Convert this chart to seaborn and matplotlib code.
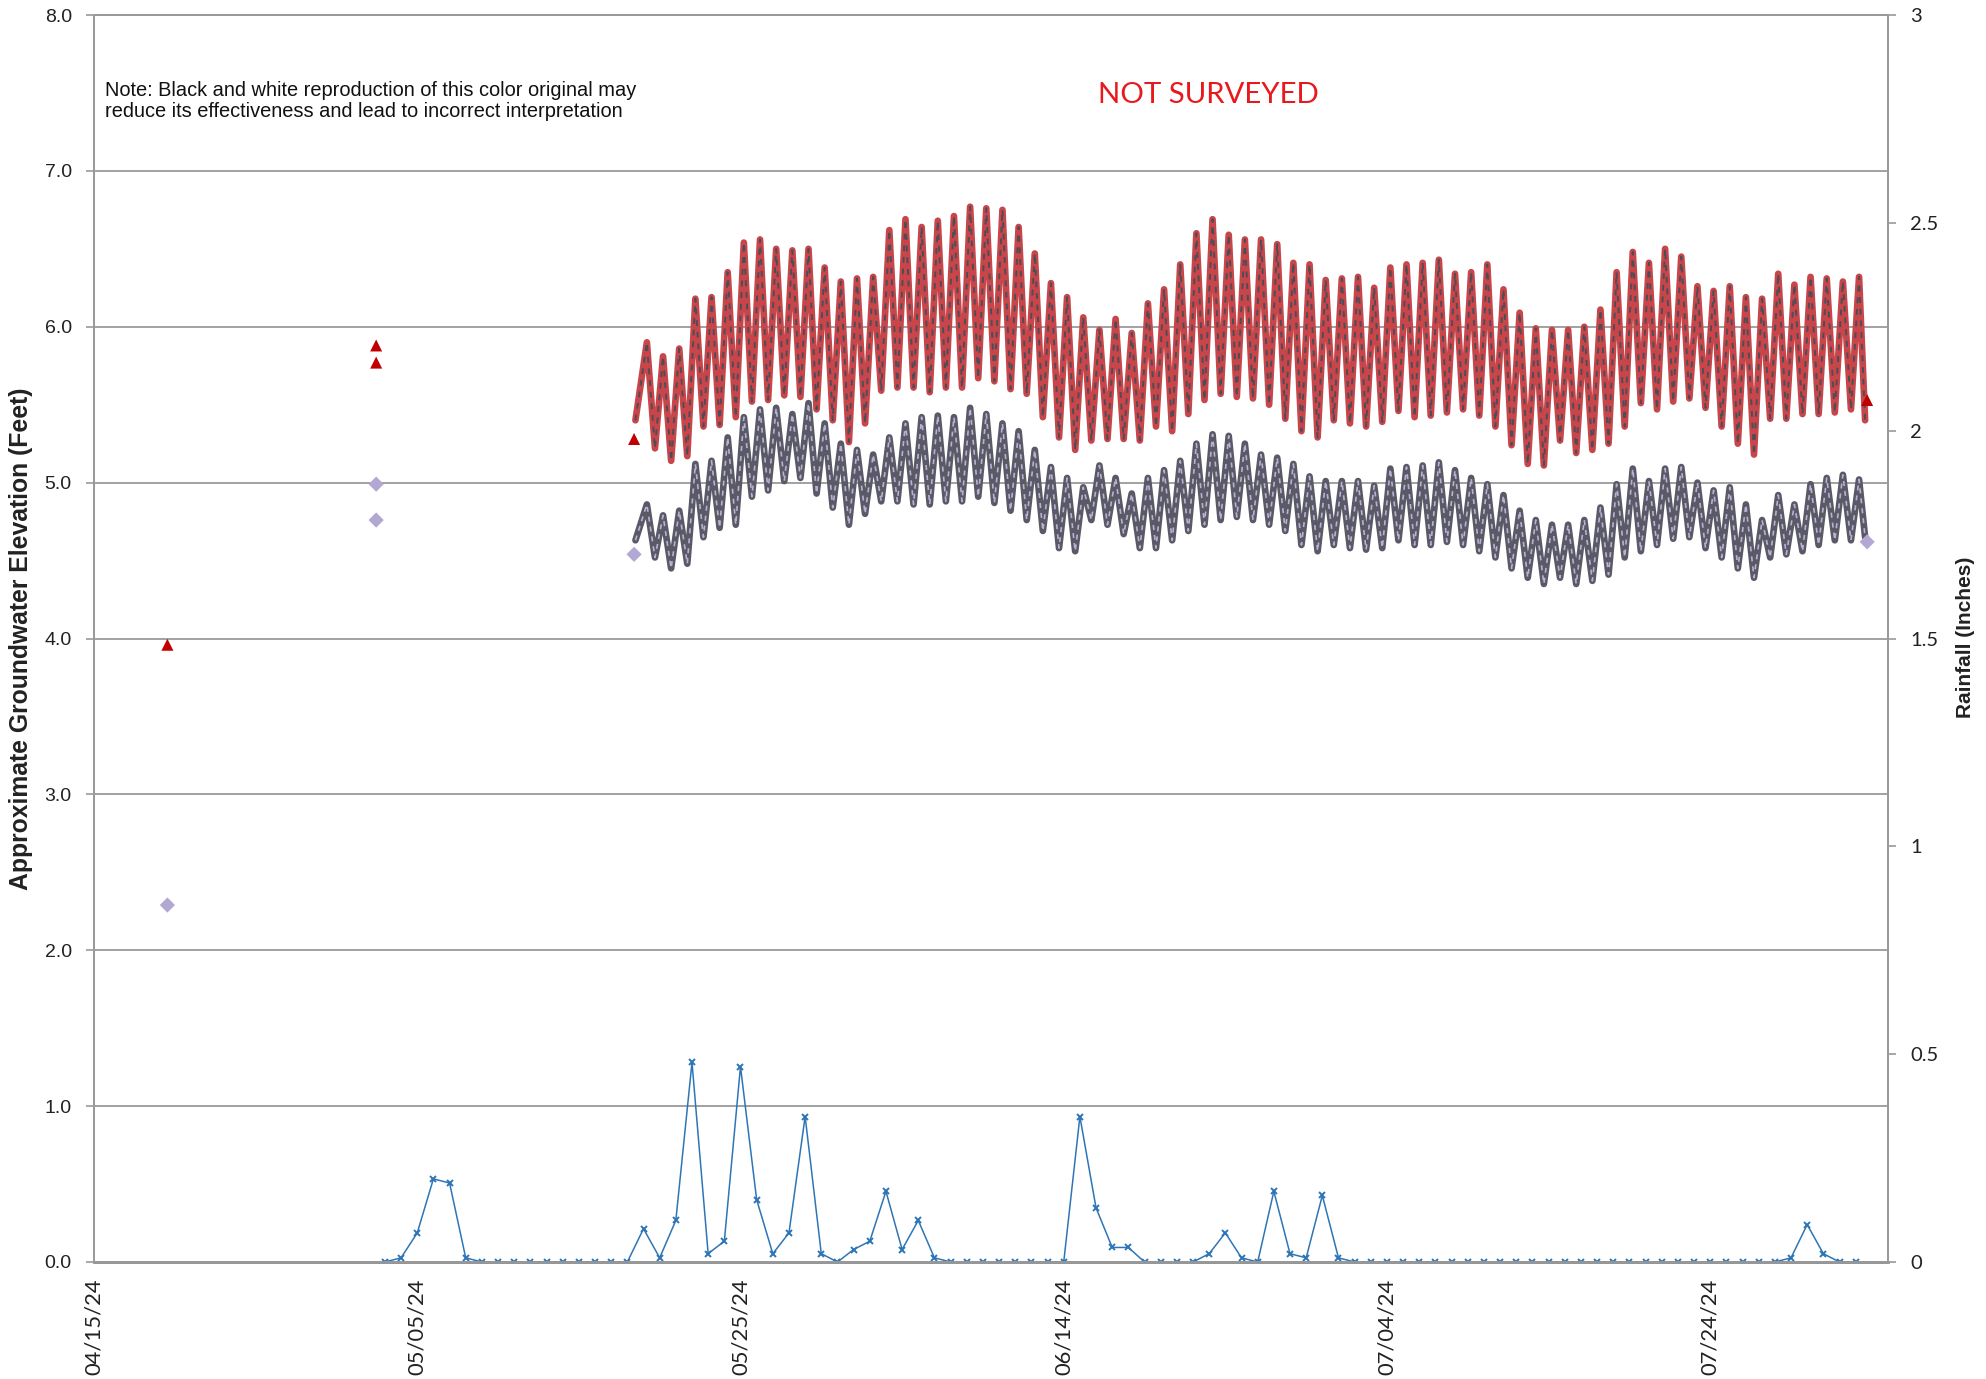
import numpy as np
import pandas as pd
import matplotlib
matplotlib.use("Agg")
import matplotlib.pyplot as plt
import matplotlib.dates as mdates
from matplotlib.ticker import FixedLocator, FuncFormatter
import seaborn as sns

# ---------------- data ----------------
# Daily rainfall (inches), 05/03/24 .. 08/02/24
rain_start = "2024-05-03"
rain_in = [
    0.00, 0.01, 0.07, 0.20, 0.19, 0.01,
    0, 0, 0, 0, 0, 0, 0, 0, 0, 0,
    0.08, 0.01, 0.10, 0.48, 0.02, 0.05, 0.47, 0.15, 0.02, 0.07, 0.35, 0.02, 0.00,
    0.03, 0.05, 0.17, 0.03, 0.10, 0.01,
    0, 0, 0, 0, 0, 0, 0, 0,
    0.35, 0.13, 0.035, 0.035, 0, 0, 0, 0, 0.02, 0.07, 0.01, 0, 0.17, 0.02, 0.01,
    0.16, 0.01,
    0, 0, 0, 0, 0, 0, 0, 0, 0, 0, 0, 0, 0, 0, 0, 0, 0, 0, 0, 0, 0, 0, 0, 0, 0,
    0, 0,
    0.01, 0.09, 0.02, 0, 0,
]

# Logger record: first reading, daily high/low readings, last reading
logger_first = "2024-05-18 12:00"
logger_first_high = "2024-05-19 05:00"
logger_last = "2024-08-02 14:00"

well_a_start, well_a_end = 5.40, 5.40
well_a_highs = [
    5.90, 5.81, 5.86, 6.18, 6.19, 6.35, 6.54, 6.56, 6.50, 6.49, 6.50, 6.38, 6.29, 6.31, 6.32, 6.62, 6.69, 6.64, 6.68,
    6.71, 6.77, 6.76, 6.75, 6.64, 6.47, 6.28, 6.19, 6.06, 5.98, 6.05, 5.96, 6.15, 6.24, 6.40, 6.60, 6.69, 6.59, 6.56,
    6.56, 6.53, 6.41, 6.40, 6.30, 6.31, 6.32, 6.25, 6.38, 6.40, 6.41, 6.43, 6.34, 6.35, 6.40, 6.24, 6.09, 5.99, 5.98,
    5.98, 6.00, 6.11, 6.35, 6.48, 6.41, 6.50, 6.45, 6.26, 6.23, 6.26, 6.19, 6.18, 6.34, 6.27, 6.32, 6.31, 6.29, 6.32,
]
well_a_lows = [
    5.22, 5.14, 5.17, 5.36, 5.37, 5.42, 5.52, 5.53, 5.56, 5.55, 5.47, 5.40, 5.26, 5.38, 5.59, 5.61, 5.61, 5.58,
    5.61, 5.61, 5.67, 5.65, 5.60, 5.57, 5.42, 5.29, 5.21, 5.27, 5.28, 5.28, 5.27, 5.36, 5.33, 5.44, 5.53, 5.57, 5.55, 5.54,
    5.50, 5.41, 5.33, 5.29, 5.40, 5.38, 5.36, 5.39, 5.46, 5.42, 5.43, 5.45, 5.47, 5.43, 5.36, 5.24, 5.12, 5.11, 5.27,
    5.19, 5.21, 5.25, 5.36, 5.51, 5.47, 5.52, 5.54, 5.48, 5.36, 5.25, 5.18, 5.41, 5.41, 5.44, 5.44, 5.45, 5.47,
]

well_b_start, well_b_end = 4.63, 4.65
well_b_highs = [
    4.86, 4.79, 4.82, 5.12, 5.14, 5.29, 5.42, 5.47, 5.48, 5.44, 5.51, 5.38, 5.25, 5.21, 5.18, 5.29, 5.38, 5.42, 5.43,
    5.42, 5.48, 5.44, 5.38, 5.33, 5.21, 5.10, 5.03, 4.97, 5.11, 5.03, 4.93, 5.03, 5.08, 5.14, 5.25, 5.31, 5.30, 5.25,
    5.18, 5.16, 5.12, 5.04, 5.01, 5.01, 5.01, 4.98, 5.09, 5.10, 5.11, 5.13, 5.08, 5.03, 4.99, 4.92, 4.82, 4.76, 4.73,
    4.73, 4.76, 4.84, 4.99, 5.09, 5.01, 5.09, 5.10, 5.00, 4.95, 4.97, 4.86, 4.76, 4.92, 4.86, 4.99, 5.03, 5.05, 5.02,
]
well_b_lows = [
    4.52, 4.45, 4.48, 4.65, 4.71, 4.73, 4.91, 4.95, 5.01, 5.03, 4.93, 4.84, 4.73, 4.80, 4.88, 4.88, 4.86, 4.86,
    4.88, 4.88, 4.91, 4.87, 4.82, 4.76, 4.69, 4.58, 4.56, 4.76, 4.73, 4.67, 4.58, 4.58, 4.63, 4.69, 4.73, 4.76, 4.78, 4.76,
    4.73, 4.69, 4.60, 4.56, 4.60, 4.58, 4.57, 4.58, 4.63, 4.60, 4.60, 4.62, 4.60, 4.56, 4.52, 4.45, 4.39, 4.35, 4.39,
    4.35, 4.37, 4.41, 4.52, 4.56, 4.60, 4.64, 4.65, 4.58, 4.52, 4.45, 4.39, 4.52, 4.54, 4.56, 4.60, 4.63, 4.63,
]

# Manual survey readings
survey_times = ["2024-04-19 13:00", "2024-05-02 11:00", "2024-05-02 11:00",
                "2024-05-18 10:00", "2024-08-02 17:00"]
survey_a = [3.96, 5.88, 5.77, 5.28, 5.53]
survey_b = [2.29, 4.99, 4.76, 4.54, 4.62]

x_ticks = ["2024-04-15", "2024-05-05", "2024-05-25", "2024-06-14", "2024-07-04", "2024-07-24"]
x_min, x_max = "2024-04-15", "2024-08-04"
left_ticks = [0, 1, 2, 3, 4, 5, 6, 7, 8]
right_ticks = [0, 0.5, 1, 1.5, 2, 2.5, 3]

# ---------------- tables ----------------
rain_df = pd.DataFrame({
    "date": pd.date_range(rain_start, periods=len(rain_in), freq="D"),
    "rain": rain_in,
})

high_t = pd.Timestamp(logger_first_high) + pd.to_timedelta(np.arange(len(well_a_highs)), unit="D")
low_t = high_t[:-1] + pd.Timedelta(hours=12)


def logger_frame(first, highs, lows, last):
    times = [pd.Timestamp(logger_first)]
    vals = [first]
    for i, h in enumerate(highs):
        times.append(high_t[i])
        vals.append(h)
        if i < len(lows):
            times.append(low_t[i])
            vals.append(lows[i])
    times.append(pd.Timestamp(logger_last))
    vals.append(last)
    return pd.DataFrame({"time": times, "elev": vals})


well_a = logger_frame(well_a_start, well_a_highs, well_a_lows, well_a_end)
well_b = logger_frame(well_b_start, well_b_highs, well_b_lows, well_b_end)
survey_df = pd.DataFrame({"time": pd.to_datetime(survey_times), "a": survey_a, "b": survey_b})

# ---------------- figure ----------------
sns.set_theme(style="white")
plt.rcParams["font.family"] = ["Liberation Sans", "DejaVu Sans"]

W, H = 1986, 1379
fig = plt.figure(figsize=(W / 100, H / 100), dpi=100)
ax = fig.add_axes([94 / W, 1 - 1262 / H, (1888 - 94) / W, (1262 - 15) / H])
ax2 = ax.twinx()

grid_c = "#9a9a9a"
ax.set_ylim(0, 8)
ax.yaxis.set_major_locator(FixedLocator(left_ticks))
ax.yaxis.set_major_formatter(FuncFormatter(lambda v, p: f"{v:.1f}"))
for v in left_ticks[1:]:
    ax.axhline(v, color=grid_c, lw=1.3, zorder=0)

# logger traces: thick line with a thin dashed line on top
sns.lineplot(data=well_a, x="time", y="elev", ax=ax, color="#c8454a", lw=4.8,
             zorder=3, estimator=None, sort=False)
sns.lineplot(data=well_a, x="time", y="elev", ax=ax, color="#4e4c57", lw=1.4,
             dashes=False, zorder=4, estimator=None, sort=False, linestyle=(0, (3, 3)))
sns.lineplot(data=well_b, x="time", y="elev", ax=ax, color="#5a5966", lw=4.8,
             zorder=3, estimator=None, sort=False)
sns.lineplot(data=well_b, x="time", y="elev", ax=ax, color="#b9b0d6", lw=1.2,
             dashes=False, zorder=4, estimator=None, sort=False, linestyle=(0, (3, 3)))

# survey markers
sns.scatterplot(data=survey_df, x="time", y="a", ax=ax, marker="^", s=75,
                color="#c00000", edgecolor="none", zorder=5)
sns.scatterplot(data=survey_df, x="time", y="b", ax=ax, marker="D", s=60,
                color="#b3a7d4", edgecolor="none", zorder=5)

# rainfall on the secondary axis
sns.lineplot(data=rain_df, x="date", y="rain", ax=ax2, color="#2e75b6", lw=1.1,
             marker="x", markersize=5, markeredgewidth=1.4, markeredgecolor="#2e75b6",
             estimator=None, sort=False)
ax2.set_ylim(0, 3)
ax2.yaxis.set_major_locator(FixedLocator(right_ticks))
ax2.yaxis.set_major_formatter(FuncFormatter(lambda v, p: f"{v:g}"))

ax.set_xlim(pd.Timestamp(x_min), pd.Timestamp(x_max))
ax.xaxis.set_major_locator(FixedLocator(mdates.date2num(pd.to_datetime(x_ticks))))
ax.xaxis.set_major_formatter(mdates.DateFormatter("%m/%d/%y"))

ax.set_xlabel("")
ax.set_ylabel("")
ax2.set_ylabel("")

for a in (ax, ax2):
    for s in a.spines.values():
        s.set_color(grid_c)
        s.set_linewidth(1.3)
    a.grid(False)
ax.spines["bottom"].set_color("#8a8a8a")
ax.spines["bottom"].set_linewidth(2.0)

ax.tick_params(axis="y", which="major", direction="out", length=6, width=1.2, color=grid_c,
               labelsize=14, pad=10, labelcolor="#222222")
ax.tick_params(axis="x", which="major", direction="out", length=6, width=1.2, color=grid_c,
               labelsize=15.8, pad=6, labelcolor="#222222", labelrotation=90)
for lab in ax.get_xticklabels():
    lab.set_family(["Lato", "DejaVu Sans"])
ax2.tick_params(axis="y", which="major", direction="out", length=6, width=1.2, color=grid_c,
                labelsize=14.5, pad=10, labelcolor="#222222")
for lab in ax2.get_yticklabels():
    lab.set_family(["Lato", "DejaVu Sans"])

# labels and annotations
fig.text(0.0108, 0.537, "Approximate Groundwater Elevation (Feet)", rotation=90,
         ha="center", va="center", fontsize=17.8, fontweight="bold", color="#222222")
fig.text(0.9895, 0.538, "Rainfall (Inches)", rotation=90, ha="center", va="center",
         fontsize=15, fontweight="bold", color="#222222")
fig.text(105 / W, 1 - 81 / H,
         "Note: Black and white reproduction of this color original may\n"
         "reduce its effectiveness and lead to incorrect interpretation",
         ha="left", va="top", fontsize=14.4, color="#111111", linespacing=1.15)
fig.text(1208 / W, 1 - 95 / H, "NOT SURVEYED", ha="center", va="center",
         fontsize=21.2, color="#e8191d", family=["Lato", "DejaVu Sans"])

fig.savefig("out.png", dpi=100, facecolor="white")
